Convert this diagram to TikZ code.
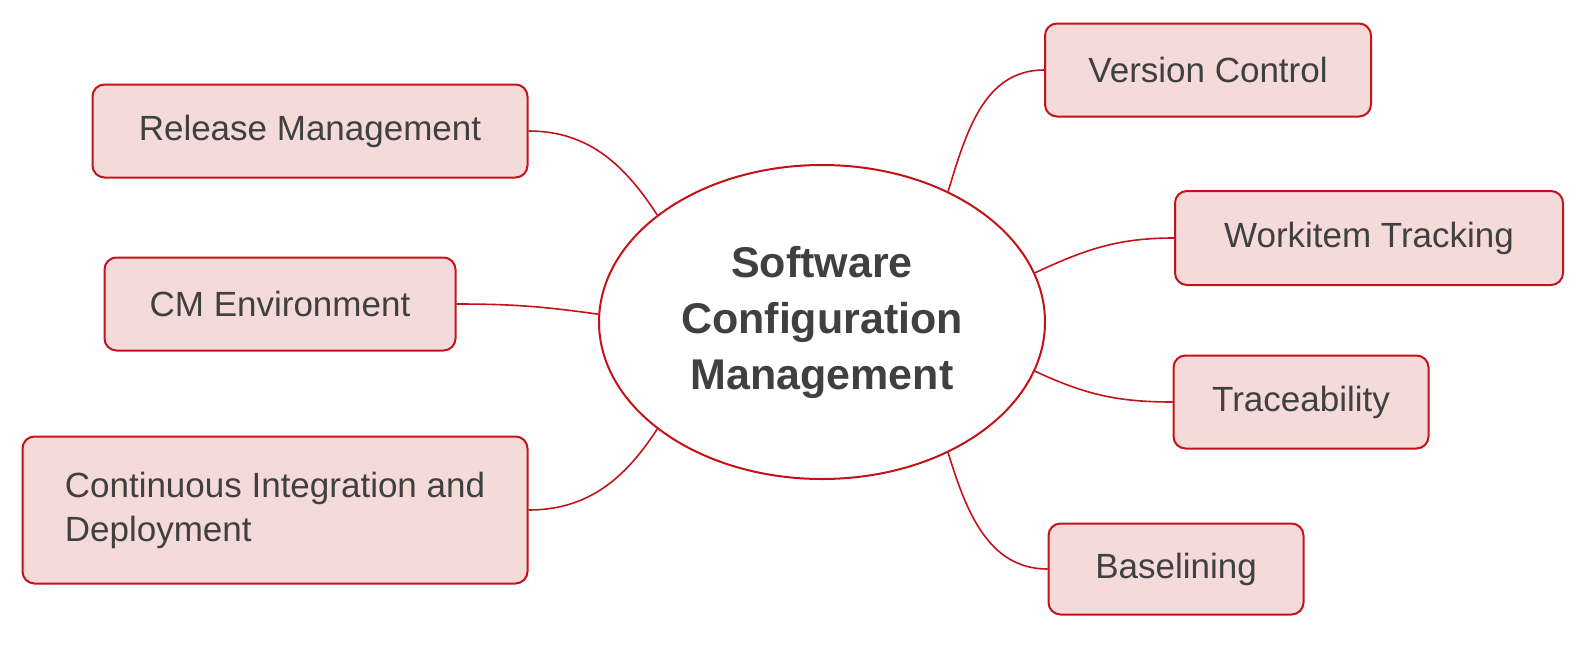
\documentclass[tikz,border=0pt]{standalone}
\usepackage{fontspec}
\setmainfont{Liberation Sans}
\usetikzlibrary{shapes.geometric}

\definecolor{scmred}{RGB}{196,18,24}
\definecolor{scmfill}{RGB}{245,218,218}
\definecolor{scmtext}{RGB}{64,64,64}

\begin{document}
\begin{tikzpicture}[x=0.5pt,y=0.5pt,line join=round]
\tikzstyle{topic}=[draw=scmred,fill=scmfill,text=scmtext,line width=1pt,rounded corners=6pt,
  font=\fontsize{17.5}{22}\selectfont,align=left,inner sep=0pt]
\tikzstyle{link}=[draw=scmred,line width=0.8pt]

\useasboundingbox (0,0) rectangle (1588,645);

% Nodo central
\node[ellipse,draw=scmred,line width=1pt,fill=white,text=scmtext,inner sep=0pt,
  minimum width=223pt,minimum height=157pt,align=center,
  font=\bfseries\fontsize{21.5}{28}\selectfont] (scm) at (822,323)
  {Software\\Configuration\\Management};

% Temas a la derecha
\node[topic,minimum width=163pt,minimum height=46.5pt] (vc) at (1208,575) {Version Control};
\node[topic,minimum width=194pt,minimum height=47pt] (wt) at (1369,407) {Workitem Tracking};
\node[topic,minimum width=127.5pt,minimum height=46.5pt] (tr) at (1301,243) {Traceability};
\node[topic,minimum width=127.5pt,minimum height=45.5pt] (bl) at (1176,76) {Baselining};

% Temas a la izquierda
\node[topic,minimum width=217.5pt,minimum height=46.5pt] (rm) at (310,514) {Release Management};
\node[topic,minimum width=175.5pt,minimum height=46.5pt] (cm) at (280,341) {CM Environment};
\node[topic,minimum width=252.5pt,minimum height=73.5pt] (ci) at (275,135)
  {Continuous Integration and\\Deployment};

% Conexiones con el nodo central
\path[link]
(vc.west) edge[out=180,in=73] (scm.46)
(wt.west) edge[out=180,in=25] (scm.13)
(tr.west) edge[out=180,in=-25] (scm.-13)
(bl.west) edge[out=180,in=-73] (scm.-46)
(rm.east) edge[out=0,in=123] (scm.147)
(cm.east) edge[out=0,in=172] (scm.178)
(ci.east) edge[out=0,in=-123] (scm.213);
\end{tikzpicture}
\end{document}
